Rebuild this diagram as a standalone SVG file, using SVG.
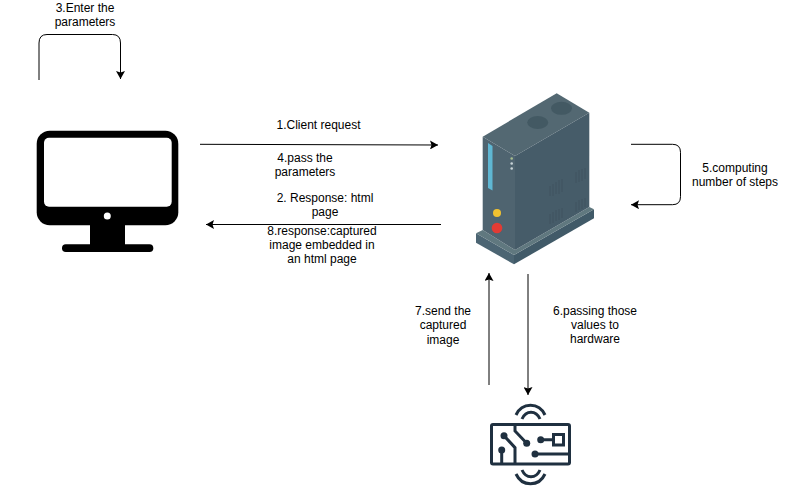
<svg xmlns="http://www.w3.org/2000/svg" width="791" height="495" viewBox="0 0 791 495">
<style>
text{font-family:"Liberation Sans",Arial,sans-serif;font-size:12px;fill:#000;text-anchor:middle}
.c{fill:none;stroke:#000;stroke-width:1}
.p{fill:none;stroke:#1f3040;stroke-width:3}
.d{fill:#1f3040}
.v{fill:none;stroke:#3d4f5c;stroke-width:1;opacity:.6}
</style>
<defs>
<marker id="a" markerWidth="9" markerHeight="9" refX="8" refY="4.500" orient="auto" markerUnits="userSpaceOnUse"><path d="M0,0L8,4.500L0,9L1.500,4.500Z" fill="#000"/></marker>
</defs>
<rect width="791" height="495" fill="#fff"/>
<g id="client">
<rect x="36.700" y="130.700" width="141.600" height="94.600" rx="13" fill="#000"/>
<rect x="44" y="137.700" width="127.700" height="69" rx="5" fill="#fff"/>
<circle cx="107.300" cy="216" r="3.500" fill="#fff"/>
<rect x="90" y="225" width="35" height="20" fill="#000"/>
<rect x="62" y="244.300" width="91.300" height="7.700" rx="3.800" fill="#000"/>
</g>
<g id="server">
<path d="M476,233.300L514,255V264.300L476,242.700Z" fill="#4c6573"/>
<path d="M514,255L594,209.300V218.300L514,264.300Z" fill="#415a68"/>
<path d="M476,233.300L482.700,230L515,250L589.300,207L594,209.300L514,255Z" fill="#60787f"/>
<path d="M482.700,136.700L556.700,93.300L589.300,112.700L515,156Z" fill="#536872"/>
<path d="M482.700,136.700L515,156V250L482.700,230Z" fill="#4f6470"/>
<path d="M515,156L589.300,112.700V207L515,250Z" fill="#465c69"/>
<ellipse cx="537.700" cy="122.500" rx="10.500" ry="6.500" fill="#435963"/>
<ellipse cx="561.500" cy="108.300" rx="10.500" ry="6.500" fill="#435963"/>
<path d="M488,143L492.500,146V190.500L488,188Z" fill="#5fb7d3"/>
<circle cx="511.700" cy="158.500" r="1.300" fill="#a6bd8e"/>
<circle cx="511.700" cy="163.500" r="1.300" fill="#c8d4d8"/>
<circle cx="511.700" cy="168.500" r="1.300" fill="#c8d4d8"/>
<circle cx="497" cy="213" r="4" fill="#f2c230"/>
<circle cx="497" cy="228" r="5.300" fill="#e23b34"/>
<path class="v" d="M550,186V196M553,184V196M556,182V194M559,180V194M562,179V192M550,214V224M553,212V223M556,210V221M559,209V220M562,208V218M576,172V183M579,170V182M582,169V181M585,168V179M576,202V212M579,200V210M582,199V209M585,198V207"/>
</g>
<g id="hardware">
<rect x="491.500" y="424.500" width="78" height="39.500" rx="1.500" class="p"/>
<path class="p" d="M516,415C522,402 539,402 545,415M522,419C526,410 536,410 540,419"/>
<path class="p" d="M516,474C522,487 539,487 545,474M522,470C526,479 536,479 540,470"/>
<path class="p" d="M504,435.700L515,447.700V464M501.700,450V464M515,425V431L526.700,443.300M540.700,439.700H553.300M535,454H569"/>
<rect x="553.500" y="434.500" width="10" height="10.500" class="p"/>
<circle class="d" cx="504" cy="435.700" r="3.500"/>
<circle class="d" cx="501.700" cy="450" r="3.500"/>
<circle class="d" cx="526.700" cy="443.300" r="3.500"/>
<circle class="d" cx="540.700" cy="439.700" r="3.500"/>
<circle class="d" cx="535" cy="454" r="3.500"/>
</g>
<g id="connectors">
<path class="c" marker-end="url(#a)" d="M200,144.300L438,145"/>
<path class="c" marker-end="url(#a)" d="M441,224.500H206"/>
<path class="c" marker-end="url(#a)" d="M39,80V43Q39,34.500 47,34.500H112.500Q120.500,34.500 120.500,43V79"/>
<path class="c" marker-end="url(#a)" d="M631,144.300H672.500Q680.500,144.300 680.500,152.300V196.700Q680.500,204.700 672.500,204.700H631"/>
<path class="c" marker-end="url(#a)" d="M489,385V273"/>
<path class="c" marker-end="url(#a)" d="M528,274V395"/>
</g>
<g id="labels">
<text x="85" y="12">3.Enter the</text>
<text x="85" y="26">parameters</text>
<text x="318.500" y="129">1.Client request</text>
<text x="305" y="162">4.pass the</text>
<text x="305" y="176">parameters</text>
<text x="325" y="202">2. Response: html</text>
<text x="325" y="216">page</text>
<text x="322" y="235">8.response:captured</text>
<text x="322" y="249">image embedded in</text>
<text x="322" y="263">an html page</text>
<text x="735" y="172">5.computing</text>
<text x="735" y="186">number of steps</text>
<text x="443" y="315">7.send the</text>
<text x="443" y="329">captured</text>
<text x="443" y="344">image</text>
<text x="595" y="315">6.passing those</text>
<text x="595" y="329">values to</text>
<text x="595" y="343">hardware</text>
</g>
</svg>
